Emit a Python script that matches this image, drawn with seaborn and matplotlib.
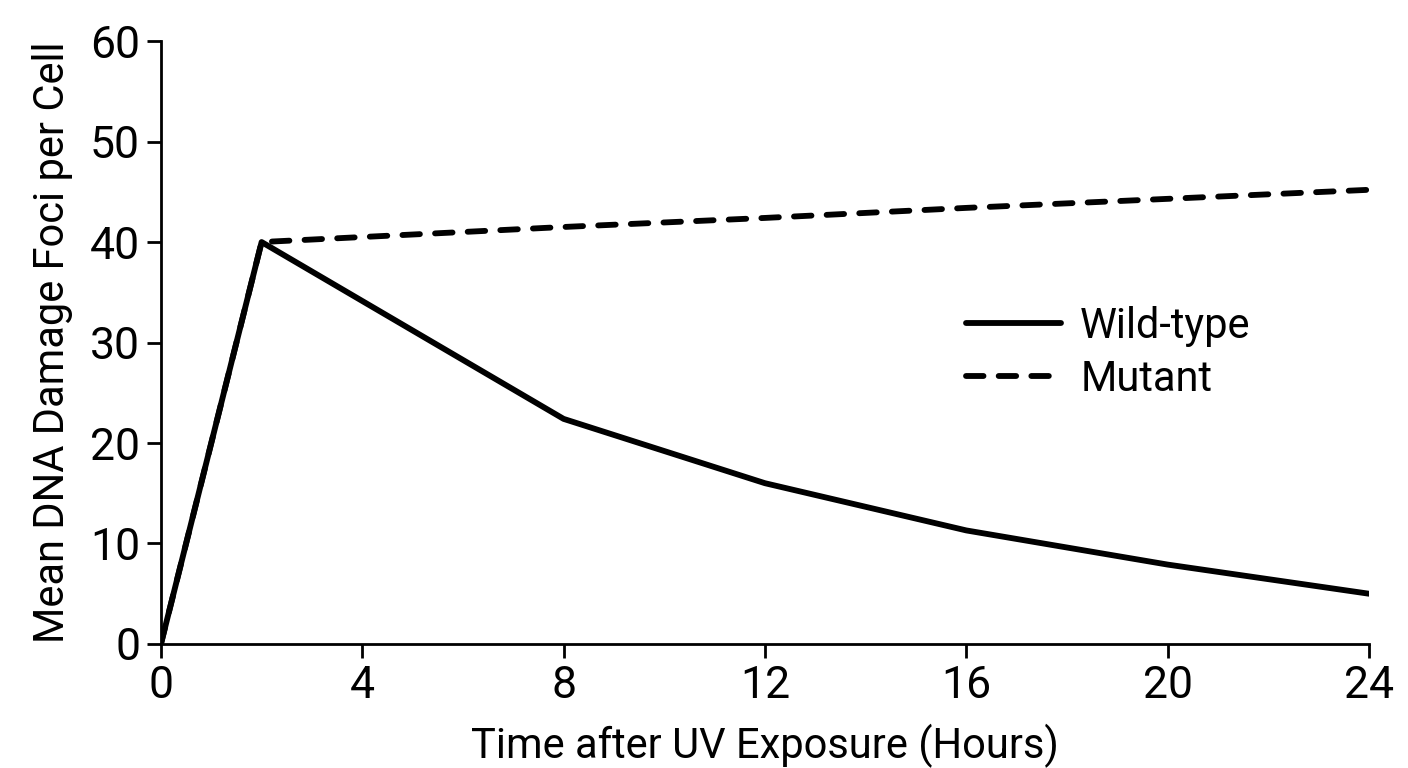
import matplotlib.pyplot as plt
import seaborn as sns
import pandas as pd

hours = [0, 2, 8, 12, 16, 20, 24]
wild_type = [0, 40, 22.4, 16.0, 11.3, 7.9, 5.0]
mutant = [0, 40, 41.5, 42.4, 43.4, 44.3, 45.2]

df = pd.DataFrame({
    'Time': hours + hours,
    'Foci': wild_type + mutant,
    'Genotype': ['Wild-type'] * len(hours) + ['Mutant'] * len(hours),
})

sns.set_style('ticks')
plt.rcParams['font.family'] = ['Roboto', 'DejaVu Sans']
plt.rcParams['text.color'] = 'black'
plt.rcParams['axes.labelcolor'] = 'black'

fig = plt.figure(figsize=(14.08, 7.68), dpi=100)
ax = fig.add_axes([0.1143, 0.1615, 0.858, 0.785])

sns.lineplot(data=df, x='Time', y='Foci', hue='Genotype', style='Genotype',
             palette={'Wild-type': 'black', 'Mutant': 'black'},
             dashes={'Wild-type': '', 'Mutant': (3.0, 2.6)},
             linewidth=4.2, dash_capstyle='round', ax=ax)

ax.set_xlim(0, 24)
ax.set_ylim(0, 60)
ax.set_xticks([0, 4, 8, 12, 16, 20, 24])
ax.set_yticks([0, 10, 20, 30, 40, 50, 60])
ax.set_xlabel('Time after UV Exposure (Hours)', fontsize=30, labelpad=12)
ax.set_ylabel('Mean DNA Damage Foci per Cell', fontsize=30, labelpad=12)
ax.tick_params(labelsize=32, width=2, length=10, pad=5,
               color='black', labelcolor='black')
for s in ['left', 'bottom']:
    ax.spines[s].set_linewidth(2)
    ax.spines[s].set_color('black')
sns.despine(ax=ax)

ax.legend(title=None, frameon=False, fontsize=30, loc='center left',
          bbox_to_anchor=(0.635, 0.483), handlelength=2.3,
          handletextpad=0.45, labelspacing=0.3)

fig.savefig('out.png', dpi=100)
